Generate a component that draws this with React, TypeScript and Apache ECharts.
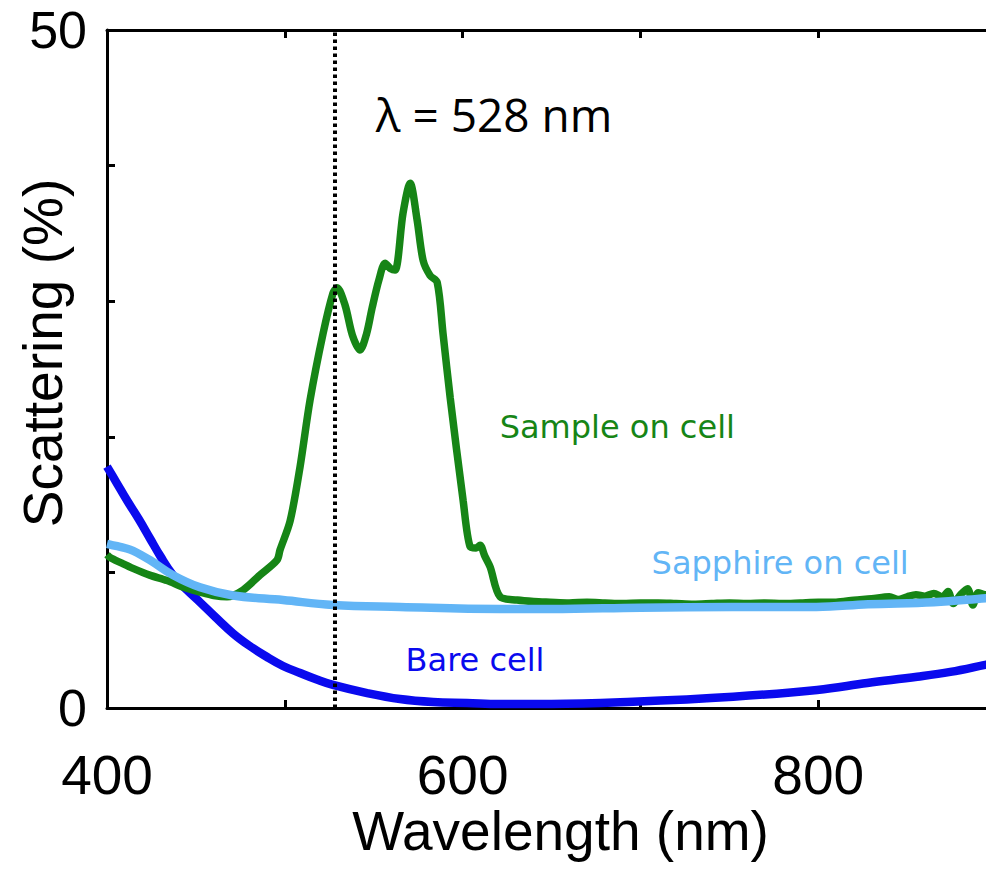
import React, { useEffect, useRef } from "react";
import * as echarts from "echarts";

// ---- data ----
const xLabelValues = [400, 600, 800];
const yLabelValues = [0, 50];
const markerWavelength = 528;

const bareCell: [number, number][] = [
  [400, 17.8], [405, 16.7], [411.3, 15.3], [418, 13.9], [424.2, 12.5], [430, 11.2],
  [437.1, 9.8], [445, 8.7], [452.3, 7.8], [461, 6.7], [470.9, 5.5], [480, 4.6],
  [490, 3.76], [499, 3.1], [508.6, 2.58], [518, 2.1], [527.1, 1.7], [546.3, 1.1],
  [564.8, 0.66], [583.4, 0.44], [602.5, 0.37], [621, 0.3], [650, 0.3], [695.9, 0.46],
  [752.2, 0.83], [799.4, 1.33], [827.6, 1.84], [855.7, 2.3], [874.3, 2.66],
  [894.5, 3.2], [900, 3.35],
];

const sampleOnCell: [number, number][] = [
  [400, 11.3], [401.7, 11.1], [408, 10.7], [414.6, 10.3], [424, 9.8], [433.8, 9.4],
  [443, 8.9], [452.3, 8.55], [460, 8.3], [467.5, 8.2], [476.5, 8.7], [486, 9.8],
  [495.6, 10.9], [497.3, 11.65], [503, 13.8], [508.6, 17.8], [514.2, 22.7],
  [521.5, 27.6], [527.1, 30.6], [529.4, 31.0], [533.9, 29.7], [538, 27.5],
  [542.3, 26.4], [546, 27.6], [549.1, 29.5], [553, 31.6], [556.4, 32.8], [559.5, 32.4],
  [562, 32.3], [566.5, 36.5], [570.5, 38.7], [574.4, 36], [577.8, 33], [581.7, 31.9],
  [585.7, 31.4], [589, 27.6], [593, 22.9], [600.3, 15.3], [604.2, 11.9], [607.6, 11.8],
  [609.8, 12.0], [612.5, 11.2], [615.5, 10.4], [621.1, 8.2], [630.7, 7.96],
  [640, 7.85], [649.2, 7.8], [660, 7.75], [670, 7.8], [680, 7.75], [690, 7.7],
  [700, 7.75], [710, 7.75], [720, 7.7], [730, 7.65], [740, 7.7], [750, 7.75],
  [760, 7.7], [770, 7.75], [780, 7.7], [790, 7.75], [800, 7.8], [810, 7.8],
  [820, 7.95], [830, 8.05], [840, 8.2], [845, 8.0], [850, 8.2], [855, 8.35],
  [860, 8.25], [865, 8.45], [870, 8.2], [873, 8.6], [876, 7.7], [880, 8.35],
  [884, 8.8], [887, 7.6], [890, 8.5], [894, 8.35], [900, 8.5],
];

const sapphireOnCell: [number, number][] = [
  [400, 12.1], [405, 11.95], [410, 11.8], [414.6, 11.6], [424.2, 10.9], [437.1, 9.8],
  [452.3, 8.9], [470.9, 8.3], [499, 7.96], [527.1, 7.6], [564.8, 7.45], [621, 7.3],
  [650, 7.3], [700, 7.4], [752, 7.45], [799, 7.45], [828, 7.65], [865, 7.8],
  [894.5, 8.1], [900, 8.15],
];

const annotationTexts = ["λ = 528 nm", "Sample on cell", "Sapphire on cell", "Bare cell"];
const annotationX = [617.7, 687, 778.6, 607];
const annotationY = [43.8, 20.7, 10.7, 3.54];

// ---- styles ----
const AXIS_FONT = "'Liberation Sans', Arial, Helvetica, sans-serif";
const LABEL_FONT = "'DejaVu Sans', Verdana, sans-serif";
const GREEN = "#168516";
const BLUE = "#0a0aee";
const LIGHT_BLUE = "#62b5f6";
const annotationColors = ["#000000", GREEN, LIGHT_BLUE, BLUE];
const annotationFonts = ["'Open Sans', 'Noto Sans', sans-serif", LABEL_FONT, LABEL_FONT, LABEL_FONT];
const annotationSizes = [46, 32, 32, 32];

export default function App() {
  const ref = useRef<HTMLDivElement>(null);

  useEffect(() => {
    if (!ref.current) return;
    const chart = echarts.init(ref.current, undefined, { renderer: "svg" });

    const axisLine = { show: true, onZero: false, lineStyle: { color: "#000", width: 3 } };
    const axisTick = { show: true, inside: true, length: 8, lineStyle: { color: "#000", width: 3 } };

    const option: any = {
      animation: false,
      backgroundColor: "#ffffff",
      grid: {
        left: 107, top: 30, right: -10, bottom: 165,
        containLabel: false, outerBoundsMode: "none",
      },
      xAxis: [
        {
          type: "value", min: 400, max: 900, interval: 100, position: "bottom",
          name: "Wavelength (nm)", nameLocation: "middle", nameGap: 101, nameMoveOverlap: false,
          nameTextStyle: {
            fontFamily: AXIS_FONT, fontSize: 55, lineHeight: 44, color: "#000",
            padding: [0, 0, 0, 18],
          },
          axisLine, axisTick,
          axisLabel: {
            margin: 45, fontFamily: AXIS_FONT, fontSize: 55, lineHeight: 44, color: "#000",
            formatter: (v: number) => (xLabelValues.includes(v) ? String(v) : ""),
          },
          splitLine: { show: false },
        },
        {
          type: "value", min: 400, max: 900, interval: 100, position: "top",
          axisLine, axisTick, axisLabel: { show: false }, splitLine: { show: false },
        },
      ],
      yAxis: [
        {
          type: "value", min: 0, max: 50, interval: 10, position: "left",
          name: "Scattering (%)", nameLocation: "middle", nameGap: 37, nameMoveOverlap: false,
          nameTextStyle: {
            fontFamily: AXIS_FONT, fontSize: 55, color: "#000",
            padding: [0, 0, 0, 32],
          },
          axisLine, axisTick,
          axisLabel: {
            margin: 20, fontFamily: AXIS_FONT, fontSize: 52, color: "#000",
            formatter: (v: number) => (yLabelValues.includes(v) ? String(v) : ""),
          },
          splitLine: { show: false },
        },
        {
          type: "value", min: 0, max: 50, interval: 10, position: "right",
          axisLine, axisTick, axisLabel: { show: false }, splitLine: { show: false },
        },
      ],
      series: [
        {
          name: "Bare cell", type: "line", data: bareCell, showSymbol: false, smooth: 0.4,
          lineStyle: { color: BLUE, width: 8.5 }, itemStyle: { color: BLUE }, z: 2,
        },
        {
          name: "Sample on cell", type: "line", data: sampleOnCell, showSymbol: false, smooth: 0.3,
          lineStyle: { color: GREEN, width: 7.5 }, itemStyle: { color: GREEN }, z: 3,
        },
        {
          name: "Sapphire on cell", type: "line", data: sapphireOnCell, showSymbol: false, smooth: 0.4,
          lineStyle: { color: LIGHT_BLUE, width: 8.5 }, itemStyle: { color: LIGHT_BLUE }, z: 4,
        },
        {
          name: "marker", type: "line", data: [], z: 5, silent: true,
          markLine: {
            silent: true, symbol: "none", animation: false,
            label: { show: false },
            lineStyle: { color: "#000", width: 4, type: [3.5, 3.5], opacity: 1 },
            data: [{ xAxis: markerWavelength }],
          },
        },
        {
          name: "annotations", type: "scatter", symbolSize: 0, silent: true, z: 6,
          itemStyle: { opacity: 1 },
          data: annotationTexts.map((t, i) => ({
            name: t,
            value: [annotationX[i], annotationY[i]],
            itemStyle: { opacity: 1 },
            label: {
              show: true, position: "inside", formatter: t, opacity: 1,
              color: annotationColors[i], fontFamily: annotationFonts[i], fontSize: annotationSizes[i],
            },
          })),
        },
      ],
    };

    chart.setOption(option);
    return () => chart.dispose();
  }, []);

  return (
    <div
      ref={ref}
      style={{ position: "absolute", left: 0, top: 0, width: 986, height: 873, background: "#fff" }}
    />
  );
}
